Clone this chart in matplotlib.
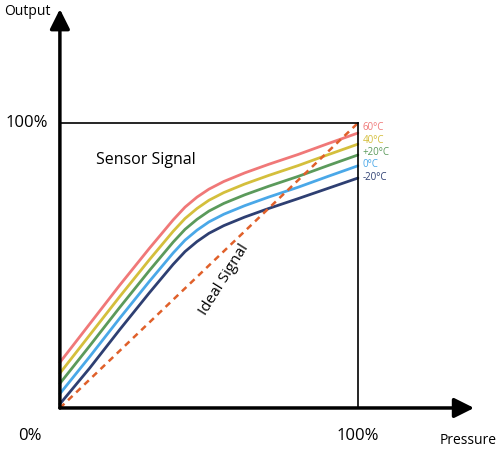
import matplotlib
matplotlib.use("Agg")
import matplotlib.pyplot as plt
from matplotlib.path import Path
import matplotlib.patches as mpatches

x = [0, 10, 20, 30, 38, 42, 46, 50, 55, 62, 70, 80, 90, 100]
t60 = [16.0, 29.5, 43.0, 56.0, 66.0, 70.5, 74.0, 76.8, 79.5, 82.5, 85.5, 89.0, 92.8, 96.5]
t40 = [12.2, 25.6, 39.0, 52.0, 62.0, 66.5, 70.0, 72.9, 75.6, 78.6, 81.6, 85.1, 88.9, 92.6]
t20 = [8.6, 21.8, 35.2, 48.2, 58.2, 62.7, 66.2, 69.1, 71.8, 74.8, 77.8, 81.3, 85.1, 88.8]
t0 = [5.0, 18.0, 31.4, 44.4, 54.4, 58.9, 62.4, 65.3, 68.0, 71.0, 74.0, 77.5, 81.3, 85.0]
tm20 = [1.4, 14.0, 27.4, 40.4, 50.4, 54.9, 58.4, 61.3, 64.0, 67.0, 70.0, 73.5, 77.1, 80.7]
series = [("60°C", t60, "#f07878"), ("40°C", t40, "#d4bf3c"), ("+20°C", t20, "#5b9a5b"),
          ("0°C", t0, "#4aa8e8"), ("-20°C", tm20, "#2e3f72")]
label_y = [98.5, 93.8, 89.5, 85.5, 80.8]
ideal_x = [0, 100]
ideal_y = [0, 100]

plt.rcParams['font.family'] = ['Open Sans', 'DejaVu Sans']
fig = plt.figure(figsize=(5, 4.51), dpi=100)
ax = fig.add_axes([0, 0, 1, 1])
ax.set_xlim(-20.1, 147.7)
ax.set_ylim(-15.1, 143.2)
ax.axis('off')

for (name, ys, c), ly in zip(series, label_y):
    ax.plot(x, ys, color=c, lw=2, solid_capstyle='round', solid_joinstyle='round')
    ax.text(101.5, ly, name, color=c, fontsize=7, va='center', ha='left')
ax.plot(ideal_x, ideal_y, color="#e0602a", lw=1.8, ls=(0, (2.5, 2)))

ax.plot([0, 100], [100, 100], color='black', lw=1.2)
ax.plot([100, 100], [0, 100], color='black', lw=1.2)
ax.annotate('', xy=(0, 140), xytext=(0, 0),
            arrowprops=dict(arrowstyle='-|>,head_width=0.6,head_length=1.2', color='black', lw=2.5, shrinkA=0, shrinkB=0))
ax.annotate('', xy=(139, 0), xytext=(0, 0),
            arrowprops=dict(arrowstyle='-|>,head_width=0.6,head_length=1.2', color='black', lw=2.5, shrinkA=0, shrinkB=0))

ax.text(-11, 139, "Output", fontsize=10, ha='center', va='center')
ax.text(-11, 100, "100%", fontsize=12, ha='center', va='center')
ax.text(-10, -10, "0%", fontsize=12, ha='center', va='center')
ax.text(100, -10, "100%", fontsize=12, ha='center', va='center')
ax.text(137, -11.5, "Pressure", fontsize=10, ha='center', va='center')
ax.text(29, 87, "Sensor Signal", fontsize=11.5, ha='center', va='center')
ax.text(55, 45, "Ideal Signal", fontsize=11, ha='center', va='center', rotation=58)

fig.savefig("out.png", dpi=100)
